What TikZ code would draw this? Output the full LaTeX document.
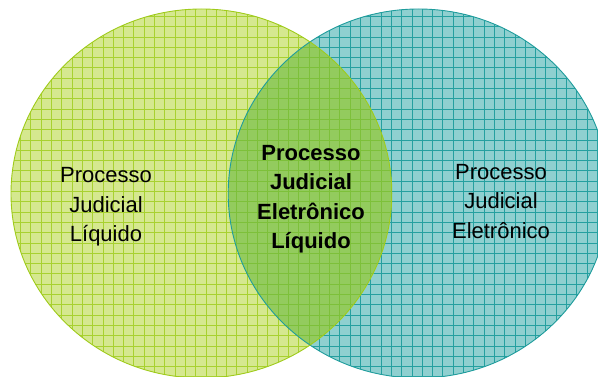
\documentclass[tikz,border=0pt]{standalone}
\usepackage{fontspec}
\setmainfont{Liberation Sans}
\definecolor{lfill}{HTML}{D5E88F}
\definecolor{lgrid}{HTML}{A8D130}
\definecolor{rfill}{HTML}{8FD0D0}
\definecolor{rgrid}{HTML}{25A0A0}
\definecolor{ofill}{HTML}{93CB5E}
\definecolor{ogrid}{HTML}{7DC03A}
\definecolor{lline}{HTML}{9FCB1A}
\definecolor{rline}{HTML}{1E9C9C}
\begin{document}
\begin{tikzpicture}[x=1pt,y=1pt,
  lbl/.style={align=center,inner sep=0pt,anchor=base,font=\fontsize{22}{29.5}\selectfont},
  gridlines/.style={line width=1pt}]
\useasboundingbox (0,0) rectangle (598,377);
\def\lcirc{(201.4,183.5) ellipse [x radius=190.4, y radius=184.5]}
\def\rcirc{(418.6,183.5) ellipse [x radius=190.4, y radius=184.5]}
% right circle
\begin{scope}
  \clip \rcirc;
  \fill[rfill] (0,0) rectangle (640,400);
  \draw[gridlines,rgrid,step=10.3] (0,0) grid (640,400);
\end{scope}
% left circle
\begin{scope}
  \clip \lcirc;
  \fill[lfill] (0,0) rectangle (640,400);
  \draw[gridlines,lgrid,step=10.3] (0,0) grid (640,400);
\end{scope}
% overlap
\begin{scope}
  \clip \lcirc;
  \clip \rcirc;
  \fill[ofill] (0,0) rectangle (640,400);
  \draw[gridlines,ogrid,step=10.3] (0,0) grid (640,400);
\end{scope}
\draw[rline,line width=0.9pt] \rcirc;
\draw[lline,line width=0.9pt] \lcirc;
\node[lbl] (liq) at (106,135.3) {Processo\\Judicial\\Líquido};
\node[lbl,font=\fontsize{22}{29.5}\selectfont\bfseries] (both) at (311,128) {Processo\\Judicial\\Eletrônico\\Líquido};
\node[lbl] (ele) at (501,138.7) {Processo\\Judicial\\Eletrônico};
\end{tikzpicture}
\end{document}
